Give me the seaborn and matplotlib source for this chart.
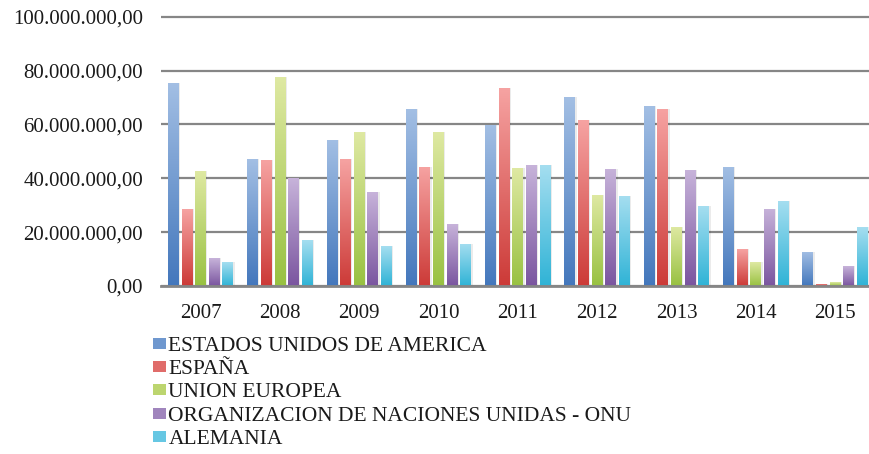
import numpy as np
import pandas as pd
import matplotlib
matplotlib.use('Agg')
import matplotlib.pyplot as plt
import seaborn as sns
from matplotlib.colors import LinearSegmentedColormap
from matplotlib.patches import Rectangle
from matplotlib.ticker import FuncFormatter

years = ['2007', '2008', '2009', '2010', '2011', '2012', '2013', '2014', '2015']
donantes = ['ESTADOS UNIDOS DE AMERICA', 'ESPAÑA', 'UNION EUROPEA',
            'ORGANIZACION DE NACIONES UNIDAS - ONU', 'ALEMANIA']

eeuu = [75.4, 47.1, 54.3, 65.7, 59.6, 70.0, 66.7, 44.3, 12.8]
espana = [28.5, 46.7, 47.1, 44.2, 73.4, 61.5, 65.8, 13.7, 0.9]
ue = [42.8, 77.7, 57.2, 57.2, 43.8, 33.8, 22.0, 8.9, 1.4]
onu = [10.3, 40.0, 34.8, 22.9, 44.8, 43.5, 43.0, 28.6, 7.4]
alemania = [8.9, 17.0, 14.7, 15.6, 44.8, 33.4, 29.6, 31.4, 21.9]

# colores estilo Office (claro arriba, oscuro abajo)
top_colors = ['#a3bfe4', '#f6a3a2', '#dfe9a3', '#c7b3da', '#a5def0']
bottom_colors = ['#4377bc', '#cc3a37', '#98c141', '#7a559f', '#2fb3d6']
mid_colors = ['#6f98cf', '#e06c6a', '#bcd56f', '#a085bd', '#66c7e3']

series = [eeuu, espana, ue, onu, alemania]
df = pd.DataFrame({
    'year': np.tile(years, len(donantes)),
    'donante': np.repeat(donantes, len(years)),
    'monto': np.concatenate(series) * 1e6,
})

sns.set_style('white')
plt.rcParams['font.family'] = ['Liberation Serif', 'DejaVu Serif']

fig = plt.figure(figsize=(8.69, 4.54), dpi=100)
ax = fig.add_axes([0.1853, 0.370, 0.8213, 0.5992])

sns.barplot(data=df, x='year', y='monto', hue='donante', order=years,
            hue_order=donantes, palette=mid_colors, width=0.86, gap=0.2,
            saturation=1, ax=ax)
ax.get_legend().remove()

# degradado vertical en cada barra
grad = np.linspace(0, 1, 256).reshape(-1, 1)
for i, d in enumerate(donantes):
    cmap = LinearSegmentedColormap.from_list(d, [bottom_colors[i], top_colors[i]])
    for p in ax.containers[i]:
        x, y = p.get_x(), p.get_y()
        w, h = p.get_width(), p.get_height()
        # sombra suave
        ax.add_patch(Rectangle((x + w * 0.12, y), w, h, facecolor='#000000',
                               alpha=0.08, edgecolor='none', zorder=1.5))
        im = ax.imshow(grad, cmap=cmap, origin='lower', aspect='auto',
                       extent=[x, x + w, y, y + h], zorder=2)
        im.set_clip_path(p)
        p.set_facecolor('none')
        p.set_edgecolor('none')

ax.set_xlim(-0.5, 8.5)
ax.set_ylim(0, 101e6)
ax.set_yticks(np.arange(0, 100e6 + 1, 20e6))
ax.yaxis.set_major_formatter(FuncFormatter(
    lambda v, pos: f'{v:,.2f}'.replace(',', 'X').replace('.', ',').replace('X', '.')))
ax.grid(axis='y', color='#868686', linewidth=1.6)
ax.grid(axis='x', visible=False)
ax.set_axisbelow(True)
for s in ['top', 'right', 'left']:
    ax.spines[s].set_visible(False)
ax.spines['bottom'].set_color('#868686')
ax.spines['bottom'].set_linewidth(2)
ax.tick_params(axis='y', length=0, pad=13, labelsize=15, colors='#1a1a1a')
ax.tick_params(axis='x', length=0, pad=13, labelsize=15, colors='#1a1a1a')
ax.set_xlabel('')
ax.set_ylabel('')

handles = [Rectangle((0, 0), 1, 1, facecolor=c, edgecolor='none') for c in mid_colors]
fig.legend(handles, donantes, loc='upper left', bbox_to_anchor=(0.176, 0.258),
           frameon=False, fontsize=15.5, handlelength=0.6, handleheight=0.4,
           handletextpad=0.12, labelspacing=0.2, borderpad=0, borderaxespad=0,
           labelcolor='#1a1a1a')

fig.savefig('out.png', dpi=100)
